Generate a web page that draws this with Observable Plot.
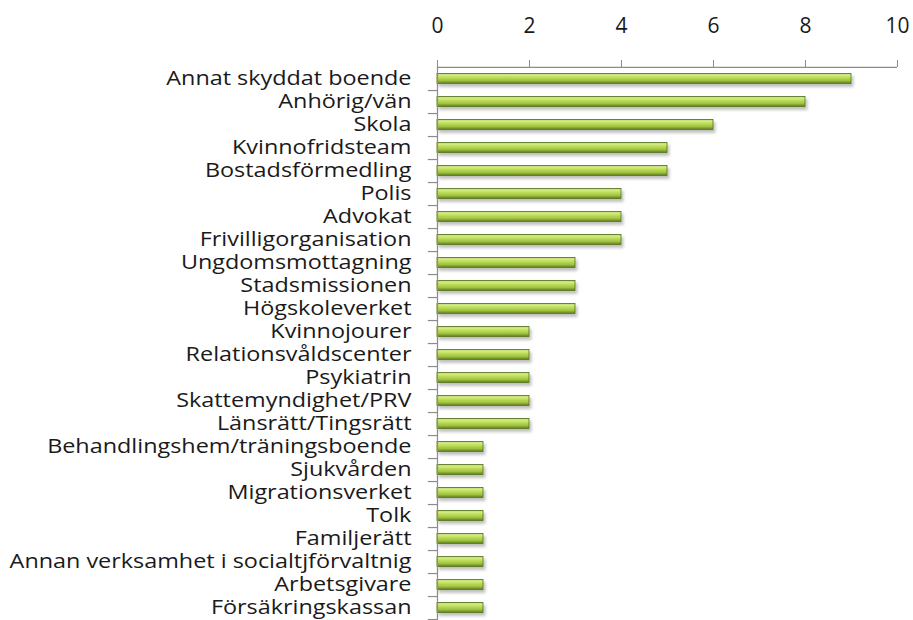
<!DOCTYPE html>
<html><head><meta charset="utf-8">
<script src="https://cdn.jsdelivr.net/npm/d3@7"></script>
<script src="https://cdn.jsdelivr.net/npm/@observablehq/plot@0.6"></script>
<style>
body{margin:0;background:#fff;}
#chart svg{display:block;}
</style>
</head><body><div id="chart"></div>
<script>
const categories = ["Annat skyddat boende","Anhörig/vän","Skola","Kvinnofridsteam","Bostadsförmedling","Polis","Advokat","Frivilligorganisation","Ungdomsmottagning","Stadsmissionen","Högskoleverket","Kvinnojourer","Relationsvåldscenter","Psykiatrin","Skattemyndighet/PRV","Länsrätt/Tingsrätt","Behandlingshem/träningsboende","Sjukvården","Migrationsverket","Tolk","Familjerätt","Annan verksamhet i socialtjförvaltnig","Arbetsgivare","Försäkringskassan"];
const values = [9,8,6,5,5,4,4,4,3,3,3,2,2,2,2,2,1,1,1,1,1,1,1,1];
const xTicks = [0,2,4,6,8,10];

const data = categories.map((c,i)=>({cat:c, v:values[i]}));
const W = 913, H = 620, mt = 66, mb = 0, ml = 437, mr = 16;
const step = (H - mt - mb) / categories.length;

const plot = Plot.plot({
  width: W, height: H,
  marginTop: mt, marginBottom: mb, marginLeft: ml, marginRight: mr,
  style: {fontFamily: "'Open Sans', sans-serif", fontSize: "19px", color: "#1a1a1a", background: "#fff"},
  x: {domain: [0,10], axis: null},
  y: {domain: categories, padding: 0, axis: null},
  marks: [
    Plot.barX(data, {x: "v", y: "cat", insetTop: 6.5, insetBottom: 6.5, fill: "url(#barGrad)", stroke: "#56731f", strokeWidth: 0.8, className: "bars"}),
    Plot.ruleY([categories[0]], {x1: 0, x2: 10, stroke: "#8c8c8c", strokeWidth: 1.2, dy: -step/2}),
    Plot.ruleX([0], {stroke: "#8c8c8c", strokeWidth: 1.2}),
    Plot.ruleY(categories, {x1: -0.2, x2: 0, stroke: "#8c8c8c", strokeWidth: 1.2, dy: step/2}),
    Plot.axisX(xTicks, {anchor: "top", label: null, tickSize: 7, tickPadding: 27, stroke: "#8c8c8c", fontSize: 21, fill: "#1a1a1a"}),
    Plot.axisY({anchor: "left", label: null, tickSize: 0, tickPadding: 26, fontSize: 19.5, fill: "#1a1a1a", className: "ylabels"})
  ]
});
document.getElementById("chart").appendChild(plot);

const svg = d3.select(plot);
const defs = svg.insert("defs", ":first-child");
const g = defs.append("linearGradient").attr("id","barGrad").attr("x1",0).attr("y1",0).attr("x2",0).attr("y2",1);
[[0,"#7d9c33"],[0.12,"#d8f08c"],[0.35,"#c2e05e"],[0.7,"#9fc23f"],[1,"#5c7a22"]].forEach(([o,c])=>g.append("stop").attr("offset",o).attr("stop-color",c));
const f = defs.append("filter").attr("id","shadow").attr("x","-5%").attr("y","-50%").attr("width","110%").attr("height","250%");
f.append("feDropShadow").attr("dx",2).attr("dy",3).attr("stdDeviation",1.5).attr("flood-color","#000").attr("flood-opacity",0.25);
svg.select("g.bars").attr("filter","url(#shadow)");

// widen category labels horizontally around their right edge (reference glyphs are horizontally stretched)
svg.selectAll("g.ylabels text").each(function(){
  const b = this.getBBox();
  if (!b || !isFinite(b.x) || b.width === 0) return;
  const rx = b.x + b.width, cy = b.y + b.height / 2;
  const t = this.getAttribute("transform") || "";
  this.setAttribute("transform", `${t} translate(${rx},${cy}) scale(1.2,1) translate(${-rx},${-cy})`.trim());
});
</script>
</body></html>
